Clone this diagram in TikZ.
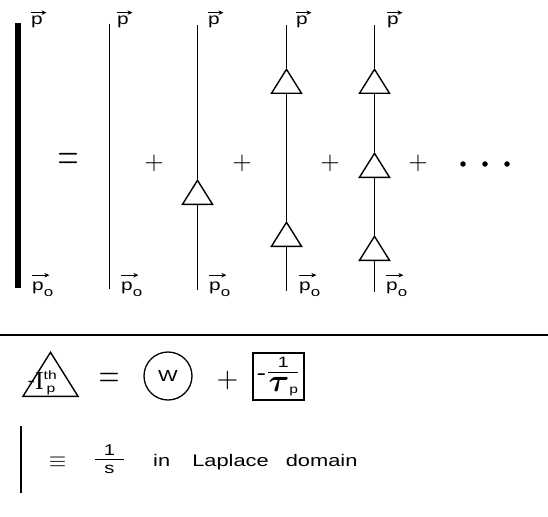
\documentclass[tikz,border=0pt]{standalone}
\usepackage{amsmath}
\usepackage{fontspec}
\setsansfont[FakeStretch=1.3]{Liberation Sans}
\newfontfamily\serifroman{Liberation Serif}
\usetikzlibrary{shapes.geometric,arrows.meta}

\newcommand\fs[1]{\fontsize{#1}{#1}\selectfont}
% stacked fraction with a fixed-width bar: width, numerator, denominator, gap above, gap below
\newcommand\barfrac[5]{\vbox{\hbox to #1{\hss#2\hss}\kern#4\hrule height 1.2pt\kern#5\hbox to #1{\hss#3\hss}}}

\tikzset{
  wire/.style={line width=1.3pt},
  heavywire/.style={line width=6pt},
  vertex/.style={isosceles triangle, isosceles triangle apex angle=64,
    isosceles triangle stretches, shape border rotate=90, draw, fill=white,
    line width=1.4pt, inner sep=0pt, minimum width=30pt, minimum height=24pt},
  mom/.style={font=\sffamily\fs{16}, inner sep=0pt, anchor=base west},
  vecarrow/.style={line width=1.2pt, -{Stealth[length=5pt,width=4.5pt]}},
  op/.style={inner sep=0pt},
  dot/.style={circle, fill=black, inner sep=0pt, minimum size=5.5pt},
}

\begin{document}
\begin{tikzpicture}[x=1pt,y=-1pt]
\useasboundingbox (0,0) rectangle (548,516);

% ---------- dressed propagator = sum of bare ladders ----------
\coordinate (bt) at (18,23);   \coordinate (bb) at (18,288);
\draw[heavywire] (bt) -- (bb);

\coordinate (at) at (109.5,24); \coordinate (ab) at (109.5,289);
\draw[wire] (at) -- (ab);

\coordinate (ct) at (197.5,25); \coordinate (cb) at (197.5,290);
\node[vertex, anchor=lower side] (c1) at (197.5,205) {};
\draw[wire] (ct) -- (c1.apex) (c1.lower side) -- (cb);

\coordinate (dt) at (286.5,25); \coordinate (db) at (286.5,291);
\node[vertex, anchor=lower side] (d1) at (286.5,94) {};
\node[vertex, anchor=lower side] (d2) at (286.5,247) {};
\draw[wire] (dt) -- (d1.apex) (d1.lower side) -- (d2.apex) (d2.lower side) -- (db);

\coordinate (et) at (374.5,25); \coordinate (eb) at (374.5,292);
\node[vertex, anchor=lower side] (e1) at (374.5,94) {};
\node[vertex, anchor=lower side] (e2) at (374.5,178) {};
\node[vertex, anchor=lower side] (e3) at (374.5,261) {};
\draw[wire] (et) -- (e1.apex) (e1.lower side) -- (e2.apex)
            (e2.lower side) -- (e3.apex) (e3.lower side) -- (eb);

% momentum labels, final (top) and initial (bottom)
\foreach \n/\x in {pb/31, pa/117, pc/208, pd/296, pe/387}{
  \node[mom] (\n) at (\x,25) {p};
  \draw[vecarrow] ([yshift=3.5pt]\n.north west) -- ([xshift=3.5pt,yshift=3.5pt]\n.north east);
}
\foreach \n/\x in {qb/32, qa/121, qc/209, qd/299, qe/386}{
  \node[mom] (\n) at (\x,290) {p\raisebox{-6pt}{\fs{13}o}};
  \draw[vecarrow] ([yshift=6pt]\n.north west) -- ([xshift=-4pt,yshift=6pt]\n.north east);
}

% operators between the terms
\node[op] (eqa) at (68,161.5) {\scalebox{2.7}[4.4]{$=$}};
\node[op] (pl1) at (154,163) {\scalebox{2.5}{$+$}};
\node[op] (pl2) at (242,163) {\scalebox{2.5}{$+$}};
\node[op] (pl3) at (330,163) {\scalebox{2.5}{$+$}};
\node[op] (pl4) at (418,163) {\scalebox{2.5}{$+$}};
\node[dot] (x1) at (463,164) {};
\node[dot] (x2) at (485,164) {};
\node[dot] (x3) at (507,164) {};

% ---------- separator ----------
\coordinate (rl) at (0,335); \coordinate (rr) at (548,335);
\draw[wire] (rl) -- (rr);

% ---------- vertex definition ----------
\node[vertex, minimum width=55pt, minimum height=44pt, anchor=lower side] (ith) at (50.5,397) {};
\node[inner sep=0pt, anchor=base west, font=\sffamily\fs{14}] (ithlbl) at (27.5,389)
  {\raisebox{2.5pt}{\fs{17}-}{\serifroman\fs{26}I}\rlap{\raisebox{10pt}{\fs{12}th}}\kern3pt\raisebox{-3pt}{\fs{12}p}};

\node[op] (eqb) at (109,379.5) {\scalebox{2.7}[3.6]{$=$}};
\node[draw, circle, line width=1.3pt, minimum size=48pt, inner sep=0pt,
      font=\sffamily\fs{16}] (w) at (168,376) {W};
\node[op] (plb) at (227.5,380) {\scalebox{2.8}{$+$}};
\node[draw, line width=1.3pt, minimum width=51pt, minimum height=47pt, inner sep=0pt,
      font=\sffamily\fs{15}] (rate) at (278.5,376.5)
  {\kern-2pt\raisebox{0pt}{\fs{22}-}\kern2pt$\vcenter{\barfrac{30pt}{1}{\scalebox{2.2}{$\boldsymbol{\tau}$}\lower2pt\hbox{\fs{12}p}}{4.5pt}{4pt}}$};

% ---------- free propagator ----------
\coordinate (ft) at (21,426); \coordinate (fb) at (21,493);
\draw[wire] (ft) -- (fb);
\node[op] (eqv) at (57.5,462.5) {\scalebox{2.25}{$\equiv$}};
\node[inner sep=0pt, font=\sffamily\fs{15.5}] (lap) at (109.5,459.5) {\barfrac{29pt}{1}{s}{3.4pt}{5.4pt}};
\node[inner sep=0pt, anchor=base west, font=\sffamily\fs{16.8}] (txt) at (153,466)
  {in\hspace{16pt} Laplace\hspace{11pt} domain};
\end{tikzpicture}
\end{document}
